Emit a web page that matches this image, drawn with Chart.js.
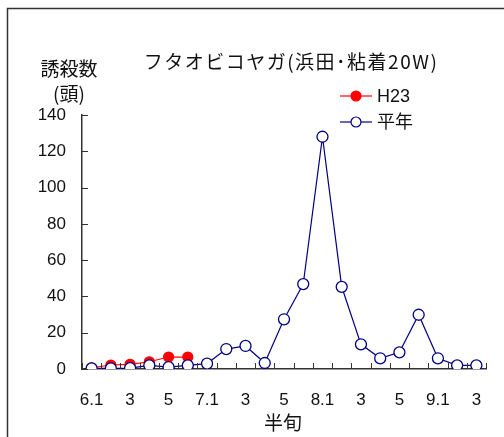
<!DOCTYPE html>
<html>
<head>
<meta charset="utf-8">
<script src="https://cdn.jsdelivr.net/npm/chart.js@4.4.0/dist/chart.umd.min.js"></script>
<style>
  body { margin: 0; background: #fff; }
  #wrap { width: 504px; height: 437px; }
</style>
</head>
<body>
<div id="wrap"><canvas id="myChart" width="504" height="437"></canvas></div>
<script>
// 半旬 categories, 6.1 .. 9.3
const categories = ['6.1','6.2','6.3','6.4','6.5','6.6','7.1','7.2','7.3','7.4','7.5','7.6',
                    '8.1','8.2','8.3','8.4','8.5','8.6','9.1','9.2','9.3'];
const tickLabels = ['6.1','','3','','5','','7.1','','3','','5','','8.1','','3','','5','','9.1','','3'];
const h23 = [0.7, 2.2, 2.6, 4, 6.6, 6.6];
const heinen = [0.3, 0.3, 0.5, 2, 1, 2, 3, 11, 12.7, 3.3, 27.4, 46.8, 128, 45.3, 13.6, 5.9, 9.2, 29.9, 5.9, 2, 2];
const yTicks = [0, 20, 40, 60, 80, 100, 120, 140];

const latin = '"Liberation Sans", "Noto Sans CJK JP", sans-serif';
const jp = '"Noto Sans CJK JP", "Liberation Sans", sans-serif';

const decor = {
  id: 'decor',
  afterDraw(chart) {
    const ctx = chart.ctx;
    const xs = chart.scales.x, ys = chart.scales.y;
    const area = chart.chartArea;
    ctx.save();
    // outer frame
    ctx.strokeStyle = '#333';
    ctx.lineWidth = 1.5;
    ctx.strokeRect(7.5, 8.5, 520, 460);

    // inward tick marks
    ctx.strokeStyle = '#333';
    ctx.lineWidth = 1;
    const step = xs.getPixelForValue(1) - xs.getPixelForValue(0);
    ctx.beginPath();
    for (let i = 0; i <= categories.length; i++) {
      const x = Math.round(xs.getPixelForValue(0) - step / 2 + i * step) + 0.5;
      ctx.moveTo(x, area.bottom);
      ctx.lineTo(x, area.bottom - 6);
    }
    yTicks.forEach(v => {
      const y = Math.round(ys.getPixelForValue(v)) + 0.5;
      ctx.moveTo(area.left, y);
      ctx.lineTo(area.left + 6, y);
    });
    ctx.stroke();

    // texts
    ctx.fillStyle = '#111';
    ctx.textBaseline = 'middle';
    ctx.textAlign = 'center';
    ctx.font = '19px ' + jp;
    ctx.letterSpacing = '1.5px';
    ctx.fillText('フタオビコヤガ(浜田･粘着20W)', 291, 62);
    ctx.letterSpacing = '0px';
    ctx.fillText('誘殺数', 69, 69);
    ctx.fillText('(頭)', 69, 94);
    ctx.fillText('半旬', 283, 423);

    // legend
    const items = [
      { label: 'H23', y: 96, color: 'red', fill: 'red' },
      { label: '平年', y: 122, color: '#000080', fill: '#fff' }
    ];
    items.forEach(it => {
      ctx.strokeStyle = it.color;
      ctx.lineWidth = 1.2;
      ctx.beginPath();
      ctx.moveTo(340, it.y);
      ctx.lineTo(372, it.y);
      ctx.stroke();
      ctx.beginPath();
      ctx.arc(356, it.y, 5, 0, Math.PI * 2);
      ctx.fillStyle = it.fill;
      ctx.fill();
      ctx.stroke();
      ctx.fillStyle = '#111';
      ctx.textAlign = 'left';
      ctx.font = '18px ' + latin;
      ctx.fillText(it.label, 377, it.y + 1);
    });
    ctx.restore();
  }
};

new Chart(document.getElementById('myChart'), {
  type: 'line',
  data: {
    labels: categories,
    datasets: [
      {
        label: 'H23',
        data: h23,
        borderColor: 'red',
        backgroundColor: 'red',
        pointBackgroundColor: 'red',
        pointBorderColor: 'red',
        borderWidth: 1.2,
        pointRadius: 5,
        order: 2
      },
      {
        label: '平年',
        data: heinen,
        borderColor: '#000080',
        backgroundColor: '#fff',
        pointBackgroundColor: '#fff',
        pointBorderColor: '#000080',
        pointBorderWidth: 1.3,
        borderWidth: 1.2,
        pointRadius: 5.5,
        order: 1
      }
    ]
  },
  options: {
    responsive: false,
    animation: false,
    layout: { padding: { left: 0, right: 18, top: 115, bottom: 0 } },
    plugins: { legend: { display: false }, tooltip: { enabled: false } },
    scales: {
      x: {
        offset: true,
        grid: { display: false, drawTicks: false },
        border: { display: true, color: '#333', width: 1.5 },
        afterFit(scale) { scale.height = 68; },
        ticks: {
          autoSkip: false,
          maxRotation: 0,
          padding: 21,
          color: '#111',
          font: { family: latin, size: 17 },
          callback: (v, i) => tickLabels[i]
        }
      },
      y: {
        min: 0,
        max: 140,
        grid: { display: false, drawTicks: false },
        border: { display: true, color: '#333', width: 1.5 },
        afterFit(scale) { scale.width = 82; },
        afterBuildTicks(scale) { scale.ticks = yTicks.map(v => ({ value: v })); },
        ticks: {
          padding: 16,
          color: '#111',
          font: { family: latin, size: 17 }
        }
      }
    }
  },
  plugins: [decor]
});
</script>
</body>
</html>
